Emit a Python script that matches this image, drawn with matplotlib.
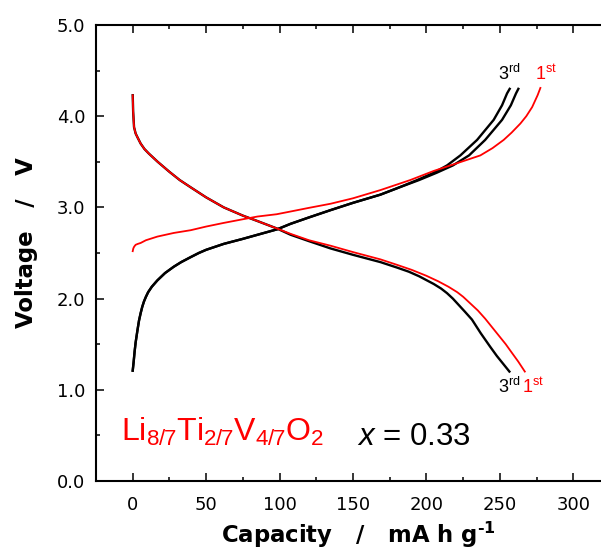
import matplotlib
matplotlib.use("Agg")
import matplotlib.pyplot as plt
from matplotlib.ticker import MultipleLocator

plt.rcParams['font.family'] = ['Liberation Sans', 'DejaVu Sans']
plt.rcParams['mathtext.fontset'] = 'custom'
plt.rcParams['mathtext.rm'] = 'Liberation Sans'
plt.rcParams['mathtext.it'] = 'Liberation Sans:italic'
plt.rcParams['mathtext.bf'] = 'DejaVu Sans:bold'

# ---- data (capacity mA h g-1, voltage V) ----
dis1_x = [0, 0.3, 0.9, 2, 3.2, 5.4, 8, 11, 17, 25, 32, 39.5, 50, 62, 75, 85, 98, 107.5, 120,
          134.7, 150, 168.7, 180, 190, 200, 208, 215, 221, 225, 229, 235, 240, 245, 250, 254, 258, 262.5, 267]
dis1_v = [4.23, 4.05, 3.88, 3.81, 3.77, 3.70, 3.64, 3.59, 3.50, 3.39, 3.30, 3.22, 3.11, 3.00, 2.91, 2.85, 2.77, 2.71, 2.64,
          2.58, 2.51, 2.43, 2.37, 2.315, 2.25, 2.19, 2.13, 2.07, 2.02, 1.96, 1.87, 1.78, 1.68, 1.58, 1.50, 1.41, 1.31, 1.20]

dis3_x = [0, 0.3, 0.9, 2, 3.2, 5.4, 8, 11, 17, 25, 32, 39.5, 50, 62, 75, 85, 98, 107.5, 120,
          134.7, 150, 168.7, 180, 188, 195, 205, 210, 214, 218, 222, 226, 231, 237, 243.5, 248, 252.5, 256.5]
dis3_v = [4.23, 4.05, 3.88, 3.81, 3.77, 3.70, 3.64, 3.59, 3.50, 3.39, 3.30, 3.22, 3.11, 3.00, 2.91, 2.85, 2.77, 2.70, 2.63,
          2.55, 2.48, 2.40, 2.34, 2.295, 2.245, 2.16, 2.11, 2.06, 2.00, 1.93, 1.86, 1.77, 1.62, 1.47, 1.37, 1.28, 1.20]

chg1_x = [0, 0.4, 1, 2, 3.5, 5.4, 9, 16.8, 28, 39.5, 50, 62, 75, 85, 98, 107.5, 120, 134.7, 150,
          168.7, 189, 205, 220, 236.7, 245, 252.6, 258, 264, 268, 272, 275.7, 277.6]
chg1_v = [2.52, 2.55, 2.57, 2.59, 2.60, 2.61, 2.64, 2.68, 2.72, 2.75, 2.79, 2.83, 2.87, 2.90, 2.925, 2.955, 2.995, 3.04, 3.10,
          3.19, 3.30, 3.40, 3.48, 3.57, 3.65, 3.74, 3.82, 3.92, 4.00, 4.10, 4.23, 4.31]

chg2_x = [0, 0.6, 1.3, 2, 3.2, 4.3, 5.4, 6.5, 7.7, 9, 10.5, 13, 16.8, 22, 28, 33, 39.5, 45, 50, 62, 75, 85, 98.4, 107.5, 120,
          134.7, 150, 168.7, 180, 195, 207, 218, 229, 240, 251.5, 257.5, 261, 262.6]
chg2_v = [1.21, 1.30, 1.42, 1.52, 1.65, 1.76, 1.84, 1.91, 1.97, 2.02, 2.07, 2.13, 2.20, 2.28, 2.35, 2.40, 2.455, 2.50, 2.535, 2.60, 2.655, 2.70, 2.76, 2.82, 2.89,
          2.97, 3.05, 3.14, 3.21, 3.30, 3.38, 3.46, 3.57, 3.74, 3.96, 4.12, 4.25, 4.30]

chg3_x = [0, 0.6, 1.3, 2, 3.2, 4.3, 5.4, 6.5, 7.7, 9, 10.5, 13, 16.8, 22, 28, 33, 39.5, 45, 50, 62, 75, 85, 98.4, 107.5, 120,
          134.7, 150, 168.7, 180, 193.7, 205, 214, 223.1, 234.5, 245.8, 251.5, 254.9, 256.7]
chg3_v = [1.21, 1.30, 1.42, 1.52, 1.65, 1.76, 1.84, 1.91, 1.97, 2.02, 2.07, 2.13, 2.20, 2.28, 2.35, 2.40, 2.455, 2.50, 2.535, 2.60, 2.655, 2.70, 2.76, 2.82, 2.89,
          2.97, 3.05, 3.14, 3.21, 3.30, 3.38, 3.46, 3.57, 3.74, 3.96, 4.12, 4.25, 4.30]

xticks = [0, 50, 100, 150, 200, 250, 300]
yticks = [0.0, 1.0, 2.0, 3.0, 4.0, 5.0]

W, H = 601, 549
fig = plt.figure(figsize=(W / 100, H / 100), dpi=100)
left, right, top, bottom = 96, 610, 25, 481
ax = fig.add_axes([left / W, 1 - bottom / H, (right - left) / W, (bottom - top) / H])

ax.plot(chg2_x, chg2_v, color='black', lw=1.7)
ax.plot(chg3_x, chg3_v, color='black', lw=1.7)
ax.plot(dis3_x, dis3_v, color='black', lw=1.7)
ax.plot(dis1_x, dis1_v, color='red', lw=1.3)
ax.plot(chg1_x, chg1_v, color='red', lw=1.3)

ax.set_xlim(-25, 325)
ax.set_ylim(0, 5)
ax.set_xticks(xticks)
ax.set_xticklabels([str(t) for t in xticks], family='DejaVu Sans', fontsize=13)
ax.set_yticks(yticks)
ax.set_yticklabels([f"{t:.1f}" for t in yticks], family='DejaVu Sans', fontsize=13)
ax.xaxis.set_minor_locator(MultipleLocator(25))
ax.yaxis.set_minor_locator(MultipleLocator(0.5))
ax.tick_params(which='both', direction='in', top=True, right=False, width=1.1)
ax.tick_params(axis='x', which='major', pad=11)
ax.tick_params(axis='y', which='major', pad=7.7)
ax.tick_params(which='major', length=6)
ax.tick_params(which='minor', length=3)
for s in ax.spines.values():
    s.set_linewidth(1.5)

ax.set_xlabel('Capacity   /   mA h g$^{\\mathbf{\u20101}}$', fontsize=16.4, fontweight='bold',
              family='DejaVu Sans')
ax.set_ylabel('Voltage   /   V', fontsize=16.4, fontweight='bold', family='DejaVu Sans')
ax.xaxis.set_label_coords((358 - left) / (right - left), -0.086)
ax.yaxis.set_label_coords(-0.112, (481 - 242.5) / 456)

ax.text(-8.2, 0.44, r'Li$_{8/7}$Ti$_{2/7}$V$_{4/7}$O$_{2}$', color='red', fontsize=23, va='baseline')
ax.text(153, 0.39, r'$x$ = 0.33', color='black', fontsize=22.5, va='baseline')

ax.text(249, 4.4, r'3$^{\rm rd}$', color='black', fontsize=13, va='baseline')
ax.text(274, 4.4, r'1$^{\rm st}$', color='red', fontsize=13, va='baseline')
ax.text(249, 0.97, r'3$^{\rm rd}$', color='black', fontsize=13, va='baseline')
ax.text(265, 0.97, r'1$^{\rm st}$', color='red', fontsize=13, va='baseline')

fig.savefig('out.png', dpi=100)
